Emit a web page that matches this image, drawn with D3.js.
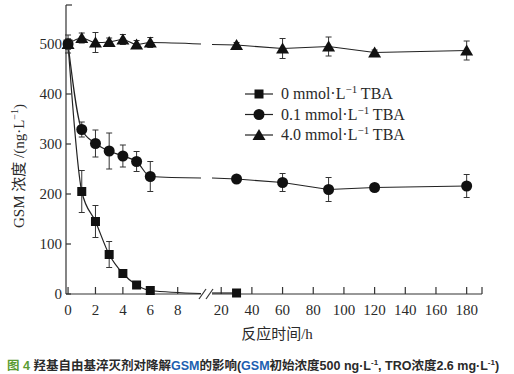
<!DOCTYPE html>
<html>
<head>
<meta charset="utf-8">
<script src="https://cdn.jsdelivr.net/npm/d3@7"></script>
<style>
  body { margin: 0; background: #fff; }
  text { fill: #2a2a2a; }
</style>
</head>
<body>
<div id="chart"></div>
<script>
// time points (h), left part and right part of the broken axis
const leftTimes = [0, 1, 2, 3, 4, 5, 6];
const rightTimes = [30, 60, 90, 120, 180];

// 0 mmol/L TBA
const tba0Left = [500, 205, 145, 79, 41, 18, 7];
const tba0LeftErr = [10, 42, 32, 26, 8, 4, 2];
const tba0Right = [2];
const tba0RightErr = [0];

// 0.1 mmol/L TBA
const tba01Left = [500, 329, 301, 286, 276, 265, 235];
const tba01LeftErr = [10, 15, 27, 36, 22, 20, 30];
const tba01Right = [230, 223, 209, 213, 216];
const tba01RightErr = [5, 18, 24, 6, 23];

// 4.0 mmol/L TBA
const tba4Left = [500, 512, 503, 504, 509, 499, 503];
const tba4LeftErr = [18, 10, 20, 8, 10, 8, 10];
const tba4Right = [498, 491, 495, 483, 487];
const tba4RightErr = [5, 20, 19, 5, 19];

// where the fitted curves meet the axis break
const tailValues = [1, 232, 500];
const headValues = [2, 232, 499];

const yTicks = [0, 100, 200, 300, 400, 500];
const xTicksLeft = [0, 2, 4, 6, 8];
const xTicksRight = [20, 40, 60, 80, 100, 120, 140, 160, 180];
const legendNames = ["0", "0.1", "4.0"];

const w = 514;
const h = 374;
const serif = "'Liberation Serif', 'Noto Sans CJK SC', serif";
const lineCol = "#222";

const svg = d3.select("#chart").
append("svg").
attr("width", w).
attr("height", h);

// scales
const yScale = d3.scaleLinear().domain([0, 578]).range([294, 5]);
const xLeft = d3.scaleLinear().domain([-0.15, 9.7]).range([66, 201]);
const xRight = d3.scaleLinear().domain([14, 190]).range([212, 482]);

const series = [
  { shape: "square", left: tba0Left, leftErr: tba0LeftErr, right: tba0Right, rightErr: tba0RightErr, rightT: [30] },
  { shape: "circle", left: tba01Left, leftErr: tba01LeftErr, right: tba01Right, rightErr: tba01RightErr, rightT: rightTimes },
  { shape: "triangle", left: tba4Left, leftErr: tba4LeftErr, right: tba4Right, rightErr: tba4RightErr, rightT: rightTimes }
];

//marker drawing
const drawMarker = (g, shape, cx, cy) => {
  if (shape === "square") {
    g.append("rect").attr("x", cx - 4.5).attr("y", cy - 4.5).attr("width", 9).attr("height", 9).attr("fill", "#111");
  } else if (shape === "circle") {
    g.append("circle").attr("cx", cx).attr("cy", cy).attr("r", 5.5).attr("fill", "#111");
  } else {
    g.append("path").attr("d", `M${cx},${cy - 6}L${cx + 6.5},${cy + 5}L${cx - 6.5},${cy + 5}Z`).attr("fill", "#111");
  }
};

//axes
const axisG = svg.append("g").attr("stroke", "#333").attr("stroke-width", 1.2).attr("fill", "none");
axisG.append("line").attr("x1", 66).attr("x2", 66).attr("y1", yScale(578)).attr("y2", yScale(0));
axisG.append("line").attr("x1", 66).attr("x2", 72).attr("y1", yScale(578)).attr("y2", yScale(578));
axisG.append("line").attr("x1", 66).attr("x2", xLeft(9.7)).attr("y1", yScale(0)).attr("y2", yScale(0));
axisG.append("line").attr("x1", xRight(14)).attr("x2", xRight(190)).attr("y1", yScale(0)).attr("y2", yScale(0));
axisG.append("line").attr("x1", xRight(190)).attr("x2", xRight(190)).attr("y1", yScale(0)).attr("y2", yScale(0) - 7);

// axis break marks
axisG.append("line").attr("x1", xLeft(9.7) - 2).attr("x2", xLeft(9.7) + 5).attr("y1", yScale(0) + 5).attr("y2", yScale(0) - 5);
axisG.append("line").attr("x1", xLeft(9.7) + 5).attr("x2", xLeft(9.7) + 12).attr("y1", yScale(0) + 5).attr("y2", yScale(0) - 5);

yTicks.forEach(t => {
  axisG.append("line").attr("x1", 66).attr("x2", 71).attr("y1", yScale(t)).attr("y2", yScale(t));
  svg.append("text").
  attr("x", 62).
  attr("y", yScale(t) + 5).
  attr("text-anchor", "end").
  attr("font-family", serif).
  attr("font-size", 15).
  text(t);
});

xTicksLeft.forEach(t => {
  axisG.append("line").attr("x1", xLeft(t)).attr("x2", xLeft(t)).attr("y1", yScale(0)).attr("y2", yScale(0) - 7);
  svg.append("text").
  attr("x", xLeft(t)).
  attr("y", 315).
  attr("text-anchor", "middle").
  attr("font-family", serif).
  attr("font-size", 15).
  text(t);
});

xTicksRight.forEach(t => {
  axisG.append("line").attr("x1", xRight(t)).attr("x2", xRight(t)).attr("y1", yScale(0)).attr("y2", yScale(0) - 7);
  svg.append("text").
  attr("x", xRight(t)).
  attr("y", 315).
  attr("text-anchor", "middle").
  attr("font-family", serif).
  attr("font-size", 15).
  text(t);
});

// axis titles
svg.append("text").
attr("x", 277).
attr("y", 339).
attr("text-anchor", "middle").
attr("font-family", serif).
attr("font-size", 15).
text("反应时间/h");

const yTitle = svg.append("text").
attr("transform", "translate(24,166) rotate(-90)").
attr("text-anchor", "middle").
attr("font-family", serif).
attr("font-size", 15);
yTitle.append("tspan").text("GSM 浓度 /(ng·L");
yTitle.append("tspan").attr("font-size", 10).attr("dy", -6).text("−1");
yTitle.append("tspan").attr("dy", 6).text(")");

//curves and points
const lineLeft = d3.line().x(d => xLeft(d[0])).y(d => yScale(d[1])).curve(d3.curveMonotoneX);
const lineRight = d3.line().x(d => xRight(d[0])).y(d => yScale(d[1]));

series.forEach((s, i) => {
  const g = svg.append("g");
  const leftPts = leftTimes.map((t, j) => [t, s.left[j]]).concat([[9.7, tailValues[i]]]);
  const rightPts = [[14, headValues[i]]].concat(s.rightT.map((t, j) => [t, s.right[j]]));

  g.append("path").attr("d", lineLeft(leftPts)).attr("fill", "none").attr("stroke", lineCol).attr("stroke-width", 1.2);
  g.append("path").attr("d", lineRight(rightPts)).attr("fill", "none").attr("stroke", lineCol).attr("stroke-width", 1.2);

  const pts = leftTimes.map((t, j) => ({ x: xLeft(t), v: s.left[j], e: s.leftErr[j] })).
  concat(s.rightT.map((t, j) => ({ x: xRight(t), v: s.right[j], e: s.rightErr[j] })));

  pts.forEach(p => {
    if (p.e > 0) {
      g.append("line").attr("x1", p.x).attr("x2", p.x).attr("y1", yScale(p.v - p.e)).attr("y2", yScale(p.v + p.e)).attr("stroke", "#333").attr("stroke-width", 1);
      [p.v - p.e, p.v + p.e].forEach(v => {
        g.append("line").attr("x1", p.x - 3).attr("x2", p.x + 3).attr("y1", yScale(v)).attr("y2", yScale(v)).attr("stroke", "#333").attr("stroke-width", 1);
      });
    }
    drawMarker(g, s.shape, p.x, yScale(p.v));
  });
});

//legend part
const legend = svg.append("g").attr("id", "legend");
series.forEach((s, i) => {
  const ly = 94 + i * 20.5;
  legend.append("line").attr("x1", 245).attr("x2", 273).attr("y1", ly).attr("y2", ly).attr("stroke", lineCol).attr("stroke-width", 1.2);
  drawMarker(legend, s.shape, 259, ly);
  const t = legend.append("text").
  attr("x", 281).
  attr("y", ly + 5).
  attr("font-family", serif).
  attr("font-size", 16);
  t.append("tspan").text(legendNames[i] + " mmol·L");
  t.append("tspan").attr("font-size", 11).attr("dy", -6).text("−1");
  t.append("tspan").attr("dy", 6).text(" TBA");
});

// caption under the chart
const cap = svg.append("text").
attr("x", 7).
attr("y", 370).
attr("font-family", "'Liberation Sans', 'Noto Sans CJK SC', sans-serif").
attr("font-weight", "bold").
attr("font-size", 12.5);
cap.append("tspan").style("fill", "#5a9c32").text("图 4 ");
cap.append("tspan").text("羟基自由基淬灭剂对降解");
cap.append("tspan").style("fill", "#2060b0").text("GSM");
cap.append("tspan").text("的影响(");
cap.append("tspan").style("fill", "#2060b0").text("GSM");
cap.append("tspan").text("初始浓度500 ng·L");
cap.append("tspan").attr("font-size", 8).attr("dy", -5).text("-1");
cap.append("tspan").attr("dy", 5).text(", TRO浓度2.6 mg·L");
cap.append("tspan").attr("font-size", 8).attr("dy", -5).text("-1");
cap.append("tspan").attr("dy", 5).text(")");
</script>
</body>
</html>
